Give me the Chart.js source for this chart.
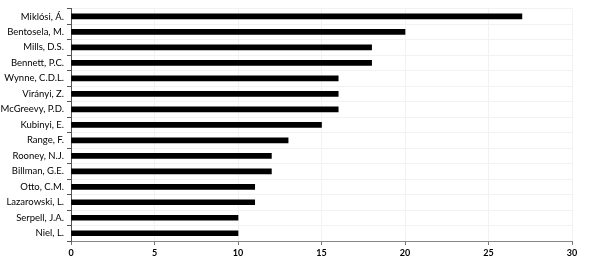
<!DOCTYPE html>
<html>
<head>
<meta charset="utf-8">
<script src="https://cdn.jsdelivr.net/npm/chart.js@4"></script>
<style>
  html, body { margin: 0; padding: 0; background: #fff; }
  #wrap { width: 589px; height: 264px; }
</style>
</head>
<body>
<div id="wrap"><canvas id="authorsChart"></canvas></div>
<script>
// Autores y número de publicaciones
const authors = [
    'Miklósi, Á.', 'Bentosela, M.', 'Mills, D.S.', 'Bennett, P.C.', 'Wynne, C.D.L.',
    'Virányi, Z.', 'McGreevy, P.D.', 'Kubinyi, E.', 'Range, F.', 'Rooney, N.J.',
    'Billman, G.E.', 'Otto, C.M.', 'Lazarowski, L.', 'Serpell, J.A.', 'Niel, L.'
];
const counts = [27, 20, 18, 18, 16, 16, 16, 15, 13, 12, 12, 11, 11, 10, 10];
const xTicks = [0, 5, 10, 15, 20, 25, 30];

const ctx = document.getElementById('authorsChart').getContext('2d');
new Chart(ctx, {
    type: 'bar',
    data: {
        labels: authors,
        datasets: [{
            data: counts,
            backgroundColor: '#000',
            borderWidth: 0,
            barThickness: 5
        }]
    },
    options: {
        indexAxis: 'y',
        responsive: true,
        maintainAspectRatio: false,
        animation: false,
        layout: { padding: { top: 5, right: 17, left: 0, bottom: 0 } },
        plugins: { legend: { display: false }, tooltip: { enabled: false } },
        scales: {
            x: {
                min: xTicks[0],
                max: xTicks[xTicks.length - 1],
                afterBuildTicks: scale => { scale.ticks = xTicks.map(v => ({ value: v })); },
                afterFit: scale => { scale.height = 23; },
                grid: { color: '#f2f2f2', tickColor: '#777', tickLength: 4 },
                border: { color: '#888' },
                ticks: { color: '#000', font: { family: 'Lato', size: 9, weight: 'bold' }, padding: 3 }
            },
            y: {
                afterFit: scale => { scale.width = 71; },
                grid: { color: '#f2f2f2', tickColor: '#555', tickLength: 4 },
                border: { color: '#555' },
                ticks: { color: '#000', font: { family: 'Lato', size: 9.5 }, padding: 3, autoSkip: false }
            }
        }
    }
});
</script>
</body>
</html>
